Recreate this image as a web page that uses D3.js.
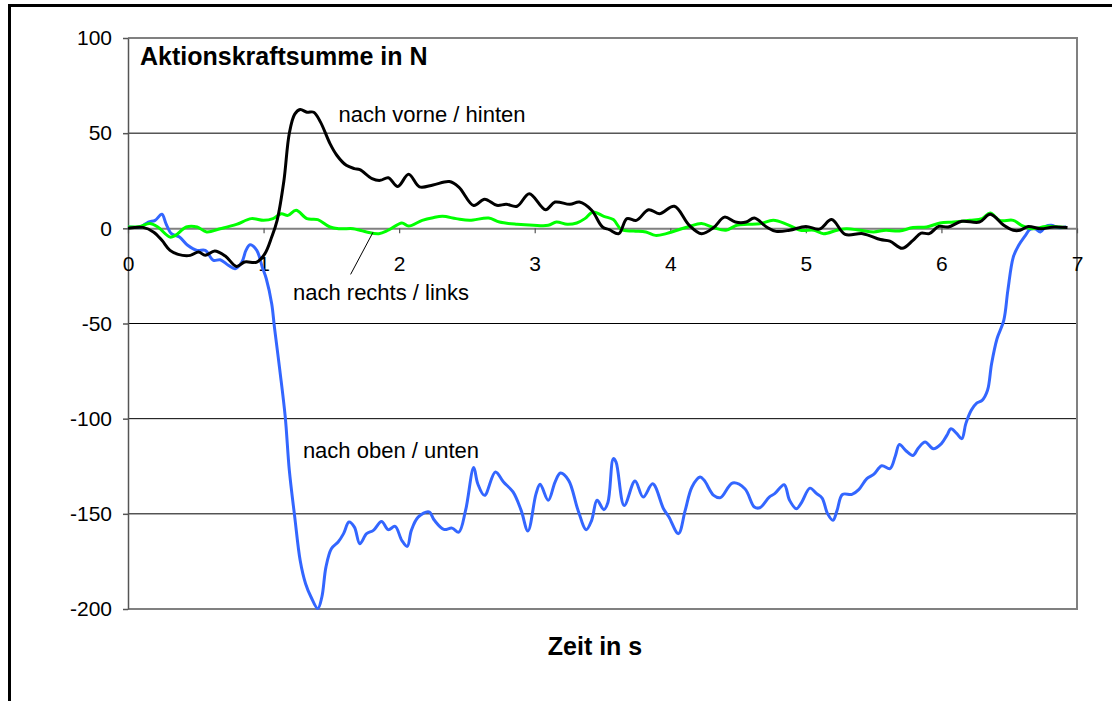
<!DOCTYPE html>
<html>
<head>
<meta charset="utf-8">
<script src="https://cdn.jsdelivr.net/npm/d3@7"></script>
<style>
  body { margin: 0; background: #fff; }
  text { font-family: "Liberation Sans", Arial, sans-serif; }
</style>
</head>
<body>
<div id="chart"></div>
<script>
// Zeit in s, Kraft in N
var vorneHinten = [[0,0],[0.11,0.5],[0.19,-2],[0.25,-6.3],[0.31,-11.6],[0.37,-13.7],[0.46,-14.2],[0.52,-12.4],[0.57,-14.2],[0.64,-11.9],[0.72,-14.7],[0.80,-20],[0.86,-17.7],[0.95,-17.7],[1.01,-13.3],[1.06,-4.6],[1.10,4.2],[1.15,25],[1.19,50],[1.23,60],[1.27,62.4],[1.32,61],[1.37,61],[1.42,55.8],[1.49,44.5],[1.54,38.4],[1.61,33.1],[1.67,31.4],[1.71,30.8],[1.80,26.1],[1.86,25.2],[1.92,26.6],[1.99,22],[2.07,28.4],[2.15,21.8],[2.25,22.8],[2.37,24.6],[2.44,21.7],[2.55,12],[2.63,15.3],[2.72,12.1],[2.79,12.6],[2.87,11.6],[2.96,18.2],[3.08,9.8],[3.15,13.8],[3.26,12.6],[3.33,13.8],[3.42,9.5],[3.50,0.7],[3.55,-0.7],[3.62,-2.8],[3.68,5.1],[3.75,4.2],[3.84,9.8],[3.92,7.7],[4.03,11.6],[4.14,1.6],[4.23,-2.8],[4.32,0.4],[4.40,5.9],[4.48,3.3],[4.56,3.3],[4.62,5.4],[4.71,0.7],[4.78,-1.6],[4.88,-1],[5.00,1],[5.10,-0.4],[5.19,4.6],[5.29,-3.2],[5.42,-2.8],[5.55,-5.9],[5.62,-6.7],[5.71,-10.5],[5.79,-6.3],[5.85,-2.5],[5.91,-2.8],[5.98,1],[6.05,0.7],[6.15,3.7],[6.28,3.3],[6.36,7.4],[6.46,1.6],[6.53,-1],[6.58,-1],[6.64,1],[6.73,-0.2],[6.83,0.7],[6.93,0.4]];

var rechtsLinks = [[0,0.7],[0.09,1],[0.16,2.5],[0.22,0.7],[0.31,-4.6],[0.35,-3.7],[0.43,0.7],[0.51,0.7],[0.58,-1.9],[0.68,-0.2],[0.80,2.1],[0.91,5.1],[1.0,4.2],[1.07,5.1],[1.13,7.7],[1.18,6.8],[1.24,9.5],[1.32,5.1],[1.40,4.6],[1.49,0.7],[1.56,-0.2],[1.66,-0.2],[1.71,-1],[1.76,-1.9],[1.85,-2.8],[1.92,-1],[2.02,2.8],[2.07,1.2],[2.17,4.2],[2.25,5.6],[2.32,6.3],[2.42,5.1],[2.52,4.2],[2.66,5.4],[2.74,3.3],[2.87,2.1],[2.99,1.6],[3.10,1.6],[3.16,3.3],[3.24,2.1],[3.31,2.8],[3.37,5.1],[3.43,8.6],[3.51,6.3],[3.58,4.6],[3.64,-0.7],[3.73,-1.4],[3.82,-1.9],[3.89,-3.7],[3.97,-2.8],[4.05,-1],[4.14,1],[4.23,2.5],[4.32,0.4],[4.41,-1],[4.49,1.6],[4.57,2.1],[4.66,2.4],[4.76,4.2],[4.86,2.1],[4.96,-1],[5.06,-1],[5.13,-2.8],[5.23,-1],[5.30,-0.2],[5.40,-1],[5.50,-1.9],[5.59,-1],[5.69,-1.4],[5.79,0.4],[5.89,0.7],[5.99,2.8],[6.09,3.3],[6.21,4.2],[6.30,5.1],[6.36,8.1],[6.43,4.2],[6.53,4.2],[6.59,1.6],[6.67,-0.2],[6.77,1],[6.87,0.7],[6.92,0.4]];

var obenUnten = [[0,0.7],[0.09,0.7],[0.15,3.3],[0.20,4.2],[0.25,7.4],[0.28,2.5],[0.32,-2.8],[0.38,-4.6],[0.44,-8.9],[0.51,-11.6],[0.57,-11.6],[0.63,-16.8],[0.68,-16.5],[0.74,-19.4],[0.79,-21.2],[0.84,-17.7],[0.87,-11.6],[0.90,-8.6],[0.95,-11.6],[0.99,-20.3],[1.02,-26.5],[1.06,-39.6],[1.08,-51.9],[1.12,-74.6],[1.16,-99.2],[1.19,-127.2],[1.23,-151.7],[1.27,-174.5],[1.31,-186.7],[1.35,-193.7],[1.40,-199.8],[1.43,-193.7],[1.46,-178],[1.50,-168.3],[1.55,-164.8],[1.59,-160.4],[1.63,-154.3],[1.67,-157],[1.71,-165.7],[1.76,-160.4],[1.81,-158.7],[1.87,-154],[1.92,-158.3],[1.97,-156.6],[2.02,-164],[2.06,-167.1],[2.09,-158.7],[2.14,-151.7],[2.22,-149],[2.26,-153.4],[2.33,-158.2],[2.39,-157.5],[2.44,-159.6],[2.49,-148.2],[2.55,-125.7],[2.58,-134.2],[2.63,-140.3],[2.71,-128],[2.77,-133.3],[2.84,-138.5],[2.90,-148.2],[2.95,-159],[3.01,-139.4],[3.04,-134.5],[3.10,-142.9],[3.15,-133.3],[3.19,-128.6],[3.25,-132.4],[3.32,-148.2],[3.38,-158.3],[3.42,-153.4],[3.46,-142.9],[3.51,-147.8],[3.54,-144],[3.58,-121],[3.60,-122.8],[3.66,-145.6],[3.74,-132.8],[3.80,-141.2],[3.87,-134.2],[3.95,-147.3],[3.99,-151.7],[4.06,-160.4],[4.11,-148.2],[4.16,-135.9],[4.22,-130.7],[4.25,-132.4],[4.32,-140.3],[4.37,-141.5],[4.46,-133.8],[4.55,-136.8],[4.62,-146.4],[4.66,-146.8],[4.73,-141.2],[4.77,-139.4],[4.84,-134.7],[4.88,-142.9],[4.93,-147.3],[4.97,-143.8],[5.03,-136.5],[5.08,-139.4],[5.12,-141.7],[5.16,-149.9],[5.20,-153.4],[5.23,-148.2],[5.27,-139.8],[5.34,-139.8],[5.39,-137.3],[5.45,-131.5],[5.50,-129.3],[5.56,-124.7],[5.62,-126.3],[5.66,-119.6],[5.69,-113.6],[5.74,-117],[5.79,-119.3],[5.83,-115.4],[5.88,-112.3],[5.94,-115.8],[6.00,-113.1],[6.04,-108.8],[6.07,-105.3],[6.11,-107.6],[6.15,-110.5],[6.18,-102.6],[6.22,-95.6],[6.26,-91.8],[6.30,-90.4],[6.34,-85.1],[6.37,-71.1],[6.41,-58],[6.46,-48.3],[6.49,-32.6],[6.53,-15.1],[6.57,-8.9],[6.62,-3.7],[6.65,-0.7],[6.69,-0.2],[6.73,-1.9],[6.77,1],[6.81,1.6],[6.86,0.4],[6.92,0.7]];

var xTicks = [0, 1, 2, 3, 4, 5, 6, 7];
var yTicks = [100, 50, 0, -50, -100, -150, -200];
var gridValues = [50, -50, -100, -150];

var W = 1112, H = 701;
var margin = {top: 38, right: 35, bottom: 92, left: 128},
    width = W - margin.left - margin.right,
    height = H - margin.top - margin.bottom;

var svg = d3.select("#chart")
  .append("svg")
    .attr("width", W)
    .attr("height", H);

// outer frame (runs off the picture on the right and bottom)
svg.append("rect")
  .attr("x", 9.5).attr("y", 5.5)
  .attr("width", W + 20).attr("height", H + 20)
  .attr("fill", "none")
  .attr("stroke", "#000")
  .attr("stroke-width", 3);

var g = svg.append("g")
  .attr("transform", "translate(" + margin.left + "," + margin.top + ")");

var x = d3.scaleLinear().domain([0, 7]).range([0, width]);
var y = d3.scaleLinear().domain([-200, 100]).range([height, 0]);

var plain = function(d) { return String(d); };

// gridlines
g.append("g")
  .selectAll("line")
  .data(gridValues)
  .enter()
  .append("line")
    .attr("x1", 0).attr("x2", width)
    .attr("y1", function(d) { return y(d); })
    .attr("y2", function(d) { return y(d); })
    .attr("stroke", "#000")
    .attr("stroke-width", 1);

// plot area frame: top, right, bottom in grey
g.append("path")
  .attr("d", "M0," + y(100) + "H" + x(7) + "V" + y(-200) + "H0")
  .attr("fill", "none")
  .attr("stroke", "#808080")
  .attr("stroke-width", 2);

// Y axis
var yAxis = g.append("g")
  .call(d3.axisLeft(y).tickValues(yTicks).tickFormat(plain)
    .tickSize(5).tickSizeOuter(0).tickPadding(11));
yAxis.select(".domain").attr("stroke", "#555").attr("stroke-width", 1.5);
yAxis.selectAll(".tick line").attr("stroke", "#555").attr("stroke-width", 1.5);
yAxis.selectAll("text")
  .attr("font-size", 21)
  .attr("font-family", "Liberation Sans, Arial, sans-serif")
  .attr("fill", "#000");

// X axis at zero
var xAxis = g.append("g")
  .attr("transform", "translate(0," + y(0) + ")")
  .call(d3.axisBottom(x).tickValues(xTicks).tickFormat(plain)
    .tickSize(5).tickSizeOuter(0).tickPadding(23));
xAxis.select(".domain").attr("stroke", "#808080").attr("stroke-width", 2);
xAxis.selectAll(".tick line").attr("stroke", "#555").attr("stroke-width", 1.2);
xAxis.selectAll("text")
  .attr("font-size", 21)
  .attr("font-family", "Liberation Sans, Arial, sans-serif")
  .attr("fill", "#000");

var line = d3.line()
  .x(function(d) { return x(d[0]); })
  .y(function(d) { return y(d[1]); })
  .curve(d3.curveCatmullRom.alpha(0.5));

g.append("path").datum(obenUnten)
  .attr("d", line).attr("fill", "none")
  .attr("stroke", "#3366ff").attr("stroke-width", 3)
  .attr("stroke-linejoin", "round");

g.append("path").datum(rechtsLinks)
  .attr("d", line).attr("fill", "none")
  .attr("stroke", "#00ff00").attr("stroke-width", 3)
  .attr("stroke-linejoin", "round");

g.append("path").datum(vorneHinten)
  .attr("d", line).attr("fill", "none")
  .attr("stroke", "#000").attr("stroke-width", 3)
  .attr("stroke-linejoin", "round");

// labels
g.append("text")
  .attr("x", 12).attr("y", 27)
  .attr("font-size", 25).attr("font-weight", "bold")
  .text("Aktionskraftsumme in N");

g.append("text")
  .attr("x", x(1.552)).attr("y", y(55.7))
  .attr("font-size", 22)
  .text("nach vorne / hinten");

g.append("text")
  .attr("x", x(1.217)).attr("y", y(-37.8))
  .attr("font-size", 22)
  .text("nach rechts / links");

g.append("line")
  .attr("x1", x(1.642)).attr("y1", y(-24.2))
  .attr("x2", x(1.807)).attr("y2", y(-2.1))
  .attr("stroke", "#000").attr("stroke-width", 1);

g.append("text")
  .attr("x", x(1.29)).attr("y", y(-120.8))
  .attr("font-size", 22)
  .text("nach oben / unten");

svg.append("text")
  .attr("x", 595).attr("y", 655)
  .attr("text-anchor", "middle")
  .attr("font-size", 25).attr("font-weight", "bold")
  .text("Zeit in s");
</script>
</body>
</html>
